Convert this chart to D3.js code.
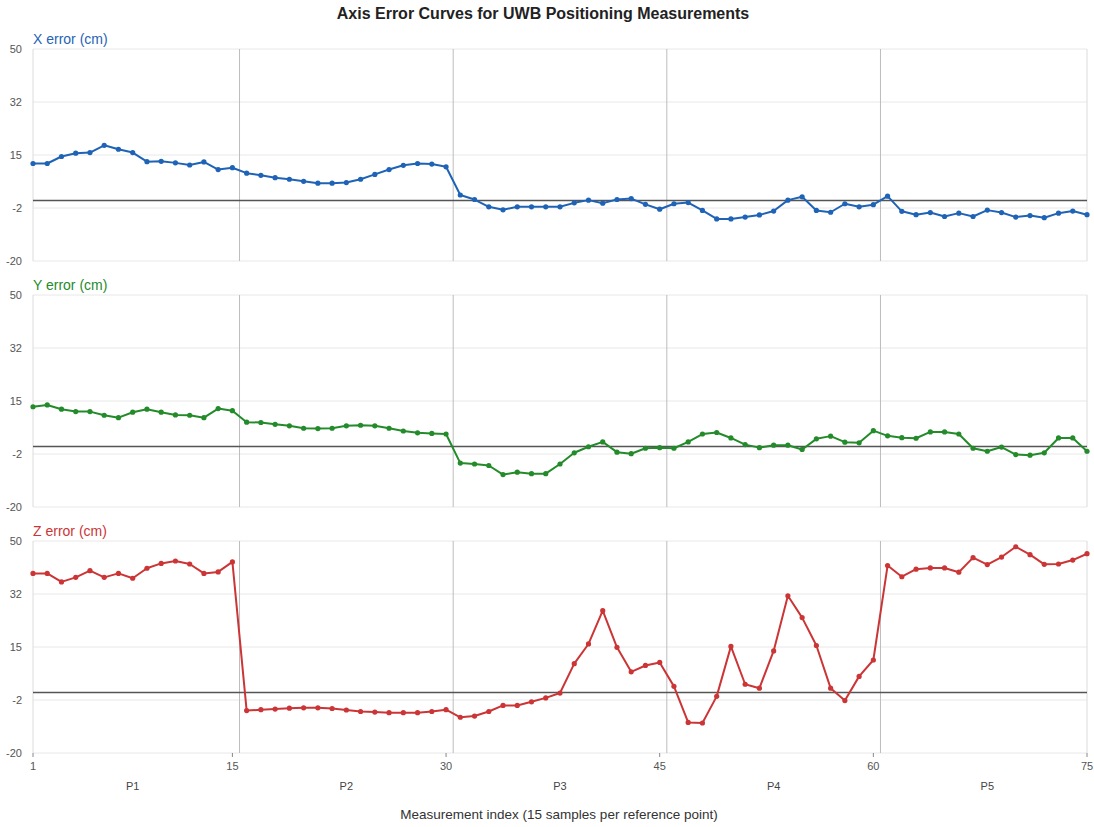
<!DOCTYPE html>
<html><head><meta charset="utf-8">
<script src="https://cdn.jsdelivr.net/npm/d3@7"></script>
<style>body{margin:0;background:#fff;font-family:"Liberation Sans",Arial,sans-serif;}</style>
</head><body><svg id="c" width="1094" height="827"></svg>
<script>
const indices = d3.range(1, 76);
const xError = [12.2,12.2,14.5,15.6,15.8,18.2,16.9,15.8,12.8,12.9,12.4,11.7,12.7,10.2,10.8,
  9.0,8.3,7.5,7.0,6.3,5.7,5.7,5.9,7.0,8.6,10.2,11.6,12.2,12.0,11.1,
  1.8,0.3,-2.1,-3.1,-2.1,-2.1,-2.1,-2.1,-0.8,0.1,-0.9,0.3,0.6,-1.3,-2.9,
  -1.1,-0.7,-3.3,-6.1,-6.1,-5.5,-4.8,-3.5,0.1,1.2,-3.3,-3.9,-1.1,-2.1,-1.4,
  1.4,-3.6,-4.7,-4.0,-5.3,-4.2,-5.3,-3.2,-4.0,-5.5,-5.0,-5.7,-4.2,-3.5,-4.7];
const yError = [13.1,13.7,12.3,11.5,11.5,10.3,9.5,11.3,12.3,11.3,10.4,10.3,9.5,12.5,11.8,
  8.0,7.9,7.3,6.8,6.0,5.9,6.0,6.8,7.0,6.8,6.0,5.1,4.5,4.3,4.1,
  -5.5,-5.8,-6.3,-9.3,-8.5,-9.0,-9.0,-5.8,-2.1,-0.1,1.5,-1.9,-2.4,-0.6,-0.4,
  -0.6,1.5,4.1,4.6,2.8,0.6,-0.4,0.4,0.4,-1.0,2.5,3.4,1.4,1.2,5.2,
  3.5,2.9,2.7,4.8,4.8,4.1,-0.6,-1.6,-0.2,-2.7,-2.9,-2.1,2.8,2.8,-1.6];
const zError = [39.3,39.3,36.5,38.0,40.2,38.0,39.3,37.7,41.0,42.6,43.4,42.4,39.3,39.8,43.1,
  -6.0,-5.7,-5.5,-5.2,-5.1,-5.1,-5.3,-5.8,-6.3,-6.5,-6.7,-6.7,-6.7,-6.3,-5.7,
  -8.2,-7.8,-6.3,-4.3,-4.3,-3.1,-1.8,-0.2,9.5,16.0,27.0,14.9,6.8,8.9,9.9,
  2.0,-9.9,-10.1,-1.3,15.2,2.7,1.4,13.7,31.9,24.7,15.5,1.4,-2.7,5.3,10.7,
  41.9,38.2,40.7,41.1,41.1,39.7,44.5,42.2,44.7,48.1,45.5,42.3,42.4,43.7,45.8];
const yTickValues = [50, 32.5, 15, -2.5, -20];
const yTickLabels = ["50", "32", "15", "-2", "-20"];
const xTickValues = [1, 15, 30, 45, 60, 75];
const refPoints = ["P1", "P2", "P3", "P4", "P5"];
const refCenters = [8, 23, 38, 53, 68];
const separators = [15.5, 30.5, 45.5, 60.5];
const panelNames = ["X error (cm)", "Y error (cm)", "Z error (cm)"];
const panelColors = ["#1f63b6", "#238b2a", "#cc3536"];
const panelData = [xError, yError, zError];

const svg = d3.select("#c");
const left = 33, right = 1087;
const panelTops = [49, 295, 541], panelH = 212;
const x = d3.scaleLinear().domain([1, 75]).range([left, right]);

svg.append("text").attr("x", 543).attr("y", 19).attr("text-anchor", "middle")
  .attr("font-size", 16).attr("font-weight", "bold").attr("fill", "#222")
  .text("Axis Error Curves for UWB Positioning Measurements");

panelData.forEach((vals, p) => {
  const top = panelTops[p];
  const y = d3.scaleLinear().domain([-20, 50]).range([top + panelH, top]);
  const g = svg.append("g");
  g.selectAll(".hg").data(yTickValues).join("line")
    .attr("x1", left).attr("x2", right).attr("y1", d => y(d)).attr("y2", d => y(d))
    .attr("stroke", "#e8e8e8").attr("stroke-width", 1);
  [left, right].forEach(xx => g.append("line").attr("x1", xx).attr("x2", xx)
    .attr("y1", top).attr("y2", top + panelH).attr("stroke", "#dcdcdc").attr("stroke-width", 1));
  g.selectAll(".sep").data(separators).join("line")
    .attr("x1", d => x(d)).attr("x2", d => x(d)).attr("y1", top).attr("y2", top + panelH)
    .attr("stroke", "#bdbdbd").attr("stroke-width", 1);
  g.selectAll(".yl").data(yTickValues).join("text")
    .attr("x", 22).attr("y", d => y(d) + 4).attr("text-anchor", "end")
    .attr("font-size", 11).attr("fill", "#555")
    .text((d, i) => yTickLabels[i]);
  g.append("line").attr("x1", left).attr("x2", right).attr("y1", y(0)).attr("y2", y(0))
    .attr("stroke", "#555").attr("stroke-width", 1.5);
  g.append("text").attr("x", left).attr("y", top - 5).attr("font-size", 14)
    .attr("fill", panelColors[p]).text(panelNames[p]);
  const line = d3.line().x((d, i) => x(indices[i])).y(d => y(d));
  g.append("path").datum(vals).attr("d", line).attr("fill", "none")
    .attr("stroke", panelColors[p]).attr("stroke-width", 2).attr("stroke-linejoin", "round");
  g.selectAll(".pt").data(vals).join("circle")
    .attr("cx", (d, i) => x(indices[i])).attr("cy", d => y(d)).attr("r", 2.6)
    .attr("fill", panelColors[p]);
});

const bottom = panelTops[2] + panelH;
const ax = svg.append("g");
ax.selectAll(".xt").data(xTickValues).join("line")
  .attr("x1", d => x(d)).attr("x2", d => x(d)).attr("y1", bottom).attr("y2", bottom + 4)
  .attr("stroke", "#888");
ax.selectAll(".xl").data(xTickValues).join("text")
  .attr("x", d => x(d)).attr("y", bottom + 17).attr("text-anchor", "middle")
  .attr("font-size", 11).attr("fill", "#555").text(d => d);
ax.selectAll(".pl").data(refPoints).join("text")
  .attr("x", (d, i) => x(refCenters[i])).attr("y", bottom + 37).attr("text-anchor", "middle")
  .attr("font-size", 11).attr("fill", "#444").text(d => d);
svg.append("text").attr("x", 559).attr("y", 819).attr("text-anchor", "middle")
  .attr("font-size", 13.5).attr("fill", "#333")
  .text("Measurement index (15 samples per reference point)");
</script></body></html>
